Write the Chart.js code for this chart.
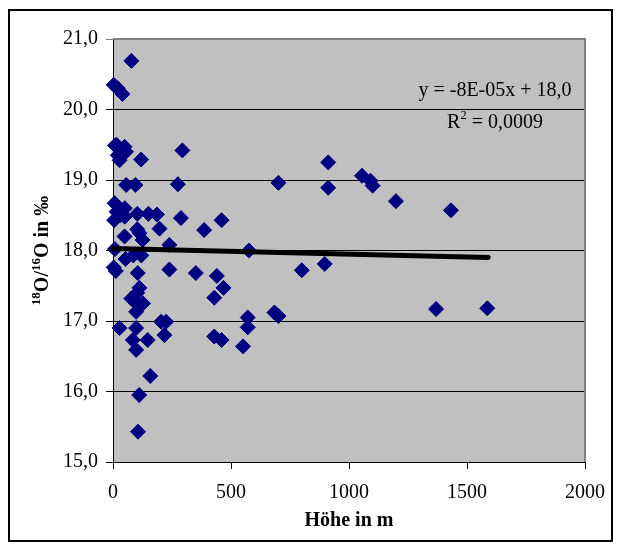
<!DOCTYPE html>
<html>
<head>
<meta charset="utf-8">
<script src="https://cdn.jsdelivr.net/npm/chart.js@4"></script>
<style>
  body { margin: 0; background: #fff; }
</style>
</head>
<body>
<canvas id="isoChart" width="617" height="545"></canvas>
<script>
// Höhe (m) and 18O/16O values
const heights = [
    3, 20, 40, 78, 8, 15, 49, 28, 41, 20, 55, 119, 294, 56, 95, 275,
    701, 912, 912, 1055, 1091, 1100, 1199, 1432,
    7, 5, 15, 50, 50, 30, 103, 150, 186, 197, 288, 386, 460,
    49, 103, 112, 125, 239, 576, 8, 53, 86, 120,
    3, 12, 105, 239, 351, 440, 468, 429, 800, 897,
    112, 78, 84, 127, 95, 98, 103,
    28, 98, 204, 225, 218, 84, 147, 98, 429, 460, 571, 571, 551, 684, 701,
    1369, 1586, 158, 111, 106
];
const isoValues = [
    20.35, 20.30, 20.22, 20.69, 19.49, 19.50, 19.47, 19.28, 19.38, 19.35, 19.40, 19.29, 19.42, 18.93, 18.93, 18.94,
    18.96, 19.25, 18.89, 19.06, 18.99, 18.92, 18.70, 18.57,
    18.67, 18.43, 18.55, 18.60, 18.48, 18.50, 18.52, 18.52, 18.51, 18.31, 18.46, 18.29, 18.43,
    18.20, 18.30, 18.25, 18.15, 18.08, 18.00, 18.02, 17.88, 17.93, 17.93,
    17.76, 17.71, 17.68, 17.73, 17.68, 17.64, 17.47, 17.33, 17.72, 17.81,
    17.47, 17.32, 17.30, 17.25, 17.27, 17.13, 17.40,
    16.90, 16.90, 16.99, 16.99, 16.80, 16.73, 16.73, 16.59, 16.78, 16.73, 17.05, 16.91, 16.64, 17.12, 17.07,
    17.17, 17.18, 16.22, 15.95, 15.43
];

// trendline end points (y = -8E-05x + 18,0)
const trendX = [0, 1590];
const trendY = [18.03, 17.90];

const equationText = 'y = -8E-05x + 18,0';
const r2Text = ' = 0,0009';

const serif = '"Liberation Serif", "Times New Roman", serif';

const points = heights.map((h, i) => ({ x: h, y: isoValues[i] }));
const trend = trendX.map((x, i) => ({ x: x, y: trendY[i] }));

const decor = {
    id: 'decor',
    beforeDraw(chart) {
        const { ctx, chartArea: a } = chart;
        ctx.save();
        ctx.fillStyle = '#fff';
        ctx.fillRect(0, 0, chart.width, chart.height);
        ctx.fillStyle = '#c0c0c0';
        ctx.fillRect(a.left, a.top, a.right - a.left, a.bottom - a.top);
        ctx.restore();
    },
    afterDraw(chart) {
        const { ctx, chartArea: a } = chart;
        ctx.save();
        // gray plot border top/right
        ctx.strokeStyle = '#808080';
        ctx.lineWidth = 2;
        ctx.beginPath();
        ctx.moveTo(a.left, a.top);
        ctx.lineTo(a.right, a.top);
        ctx.lineTo(a.right, a.bottom);
        ctx.stroke();

        // outer frame
        ctx.strokeStyle = '#000';
        ctx.lineWidth = 2;
        ctx.strokeRect(9, 10, 603, 531);

        // equation
        ctx.fillStyle = '#000';
        ctx.font = '20px ' + serif;
        ctx.textAlign = 'center';
        ctx.textBaseline = 'alphabetic';
        const cx = a.right - 90;
        ctx.fillText(equationText, cx, 96);
        // R² line
        ctx.font = '20px ' + serif;
        const wR = ctx.measureText('R').width;
        const wRest = ctx.measureText(r2Text).width;
        ctx.font = '13px ' + serif;
        const wSup = ctx.measureText('2').width;
        let x0 = cx - (wR + wSup + wRest) / 2;
        ctx.textAlign = 'left';
        ctx.font = '20px ' + serif;
        ctx.fillText('R', x0, 128);
        ctx.font = '13px ' + serif;
        ctx.fillText('2', x0 + wR, 119);
        ctx.font = '20px ' + serif;
        ctx.fillText(r2Text, x0 + wR + wSup, 128);

        // y axis title with superscripts
        const parts = [
            { t: '18', sup: true },
            { t: 'O/', sup: false },
            { t: '16', sup: true },
            { t: 'O in ‰', sup: false }
        ];
        const big = 'bold 20px ' + serif;
        const small = 'bold 13px ' + serif;
        let total = 0;
        parts.forEach(p => {
            ctx.font = p.sup ? small : big;
            p.w = ctx.measureText(p.t).width;
            total += p.w;
        });
        ctx.translate(48, (a.top + a.bottom) / 2);
        ctx.rotate(-Math.PI / 2);
        let px = -total / 2;
        parts.forEach(p => {
            ctx.font = p.sup ? small : big;
            ctx.fillText(p.t, px, p.sup ? -8 : 0);
            px += p.w;
        });
        ctx.restore();
    }
};

const ctx = document.getElementById('isoChart').getContext('2d');
const isoChart = new Chart(ctx, {
    type: 'scatter',
    data: {
        datasets: [{
            label: 'Trend',
            data: trend,
            showLine: true,
            borderColor: '#000',
            borderWidth: 5,
            pointRadius: 0,
            borderCapStyle: 'round',
            clip: false
        }, {
            label: 'Messwerte',
            data: points,
            pointStyle: 'rectRot',
            pointRadius: 7.5,
            backgroundColor: '#000080',
            borderColor: '#000080',
            borderWidth: 1,
            clip: false
        }]
    },
    options: {
        responsive: false,
        devicePixelRatio: 1,
        animation: false,
        layout: { padding: { top: 39, right: 30, left: 0, bottom: 0 } },
        plugins: {
            legend: { display: false },
            tooltip: { enabled: false }
        },
        scales: {
            x: {
                type: 'linear',
                min: 0,
                max: 2000,
                afterFit: s => { s.height = 83; },
                ticks: {
                    stepSize: 500,
                    color: '#000',
                    padding: 12,
                    font: { family: serif, size: 20 },
                    callback: v => String(v)
                },
                grid: { drawOnChartArea: false, color: '#000', tickLength: 7 },
                border: { color: '#000', width: 1 },
                title: {
                    display: true,
                    text: 'Höhe in m',
                    color: '#000',
                    font: { family: serif, size: 20, weight: 'bold' },
                    padding: { top: 0, bottom: 12 }
                }
            },
            y: {
                min: 15,
                max: 21,
                afterFit: s => { s.width = 113; },
                ticks: {
                    stepSize: 1,
                    color: '#000',
                    padding: 8,
                    font: { family: serif, size: 20 },
                    callback: v => v.toFixed(1).replace('.', ',')
                },
                grid: {
                    color: c => (c.tick && c.tick.value === 21) ? '#808080' : '#000',
                    tickLength: 7
                },
                border: { color: '#000', width: 1 }
            }
        }
    },
    plugins: [decor]
});
</script>
</body>
</html>
